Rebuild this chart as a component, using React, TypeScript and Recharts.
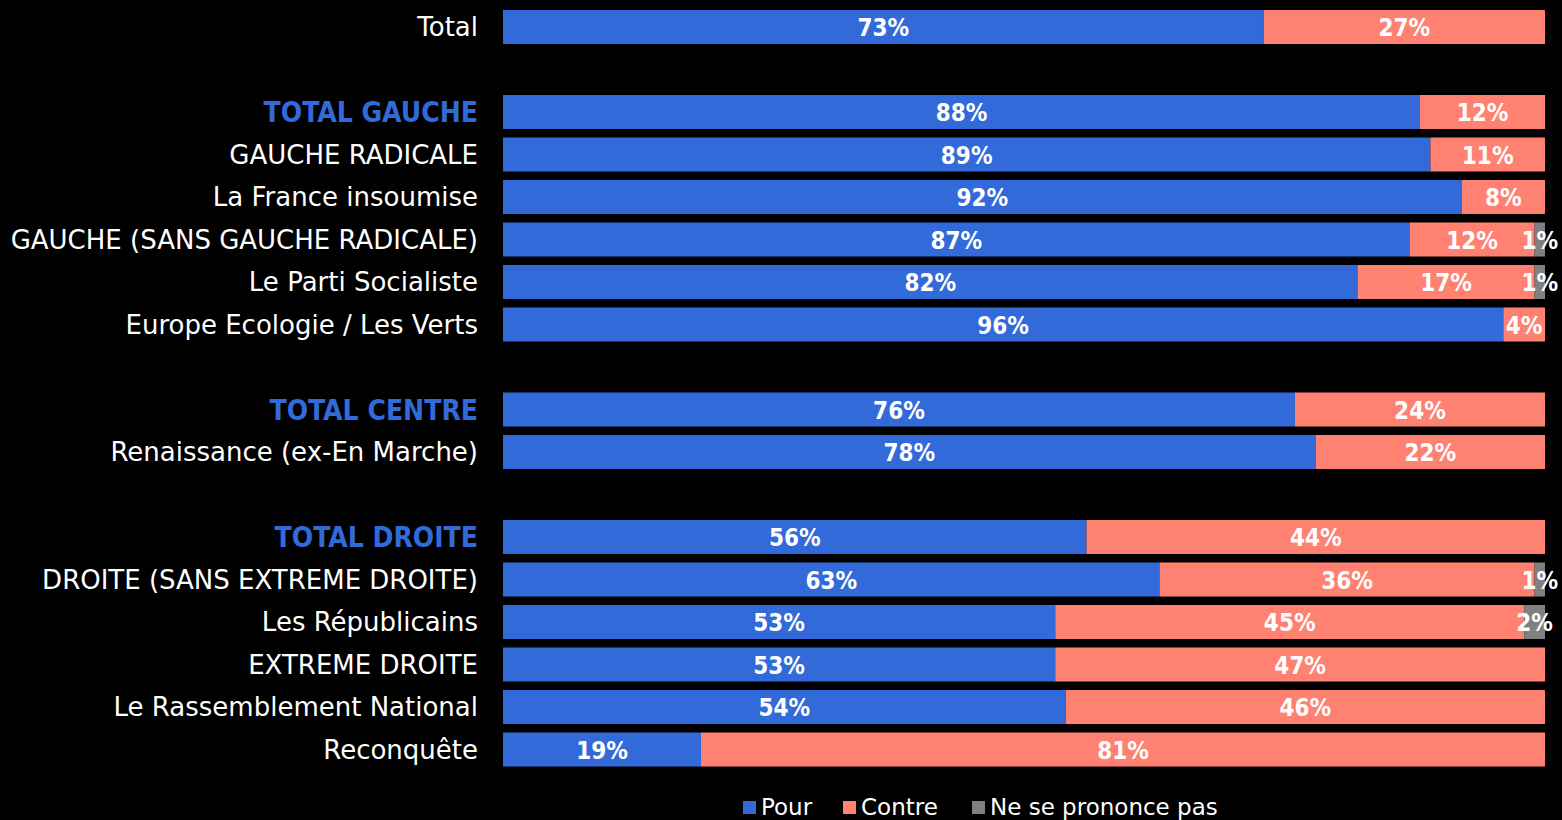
import { BarChart, Bar, XAxis, YAxis, Legend, LabelList } from 'recharts'

const categories = [
  'Total',
  '',
  'TOTAL GAUCHE',
  'GAUCHE RADICALE',
  'La France insoumise',
  'GAUCHE (SANS GAUCHE RADICALE)',
  'Le Parti Socialiste',
  'Europe Ecologie / Les Verts',
  '',
  'TOTAL CENTRE',
  'Renaissance (ex-En Marche)',
  '',
  'TOTAL DROITE',
  'DROITE (SANS EXTREME DROITE)',
  'Les Républicains',
  'EXTREME DROITE',
  'Le Rassemblement National',
  'Reconquête',
]

const pour = [73, 0, 88, 89, 92, 87, 82, 96, 0, 76, 78, 0, 56, 63, 53, 53, 54, 19]
const contre = [27, 0, 12, 11, 8, 12, 17, 4, 0, 24, 22, 0, 44, 36, 45, 47, 46, 81]
const nspp = [0, 0, 0, 0, 0, 1, 1, 0, 0, 0, 0, 0, 0, 1, 2, 0, 0, 0]

const highlighted = ['TOTAL GAUCHE', 'TOTAL CENTRE', 'TOTAL DROITE']

const BLUE = '#326AD9'
const SALMON = '#FF8172'
const GREY = '#7F8080'
const FONT = '"DejaVu Sans", sans-serif'
const FONT_COND = '"DejaVu Sans Condensed", "DejaVu Sans", sans-serif'

const data = categories.map((name, i) => ({
  id: `r${i}`,
  name,
  pour: pour[i],
  contre: contre[i],
  nspp: nspp[i],
}))

const series = [
  { key: 'pour', label: 'Pour', color: BLUE, left: 743 },
  { key: 'contre', label: 'Contre', color: SALMON, left: 843 },
  { key: 'nspp', label: 'Ne se prononce pas', color: GREY, left: 972 },
]

function CategoryTick(props: any) {
  const { x, y, payload } = props
  const row = data.find((d) => d.id === payload.value)
  const name = row ? row.name : ''
  const hi = highlighted.includes(name)
  return (
    <text
      x={x}
      y={y}
      dy={hi ? 10 : 9}
      textAnchor="end"
      fill={hi ? BLUE : '#FFFFFF'}
      fontFamily={hi ? FONT_COND : FONT}
      fontSize={hi ? 28 : 26}
      fontWeight={hi ? 700 : 400}
    >
      {name}
    </text>
  )
}

function ValueLabel(props: any) {
  const { x, y, width, height, value } = props
  if (!value) return null
  return (
    <text
      x={x + width / 2}
      y={y + height / 2}
      dy={9}
      textAnchor="middle"
      fill="#FFFFFF"
      fontFamily={FONT_COND}
      fontSize={24}
      fontWeight={700}
    >
      {value}%
    </text>
  )
}

function LegendContent() {
  return (
    <div style={{ position: 'relative', height: 49, fontFamily: FONT, fontSize: 23, color: '#FFFFFF' }}>
      {series.map((s) => (
        <div
          key={s.key}
          style={{ position: 'absolute', left: s.left, top: 23, display: 'flex', alignItems: 'center', lineHeight: '26px', whiteSpace: 'nowrap' }}
        >
          <span style={{ display: 'inline-block', width: 13, height: 13, background: s.color, marginRight: 5 }} />
          {s.label}
        </div>
      ))}
    </div>
  )
}

export default function App() {
  return (
    <div style={{ position: 'absolute', left: 0, top: 0, width: 1562, height: 820, background: '#000000', overflow: 'hidden' }}>
      <BarChart
        width={1562}
        height={820}
        data={data}
        layout="vertical"
        margin={{ top: 6, right: 17, bottom: 0, left: 0 }}
        barSize={34}
      >
        <XAxis type="number" domain={[0, 100]} hide />
        <YAxis
          type="category"
          dataKey="id"
          width={503}
          axisLine={false}
          tickLine={false}
          tickSize={0}
          tickMargin={25}
          interval={0}
          tick={<CategoryTick />}
        />
        <Legend verticalAlign="bottom" height={49} content={<LegendContent />} />
        {series.map((s) => (
          <Bar key={s.key} dataKey={s.key} stackId="a" fill={s.color} isAnimationActive={false}>
            <LabelList dataKey={s.key} content={<ValueLabel />} />
          </Bar>
        ))}
      </BarChart>
    </div>
  )
}
